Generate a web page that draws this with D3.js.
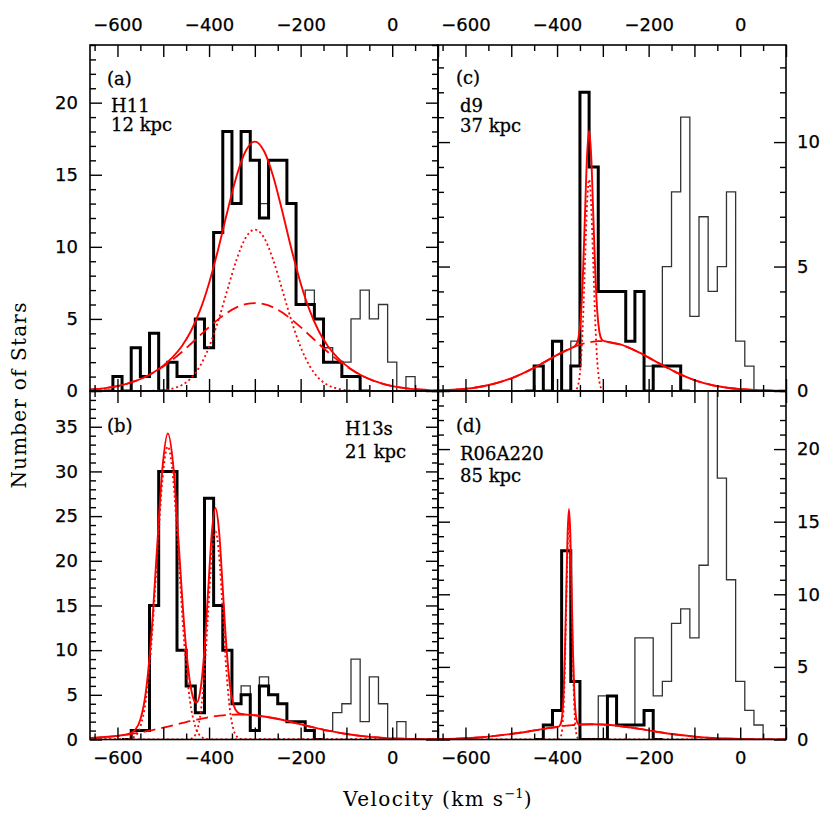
<!DOCTYPE html>
<html><head><meta charset="utf-8">
<script src="https://cdn.jsdelivr.net/npm/d3@7"></script>
<style>body{margin:0;background:#fff}</style>
</head><body>
<svg id="chart" width="830" height="830"></svg>
<script>
// ---------------- DATA ----------------
const binWidth = 20;
const xMajorTicks = [-600,-500,-400,-300,-200,-100,0,100];
const xMinorTicks = [-650,-550,-450,-350,-250,-150,-50,50];
const xTickLabels = [-600,-400,-200,0];

// Panel (a) H11 12 kpc
const aSelFirst = -620;
const aSelCounts = [0,1,0,3,1,4,0,2,1,1,5,3,11,18,13,18,16,12,16,16,13,6,6,5,2,2,1,1,0];
const aAllFirst = -620;
const aAllCounts = [0,1,0,3,1,4,0,2,1,1,5,3,11,18,13,18,16,13,16,16,13,6,7,5,3,2,2,5,7,5,6,2,0,1,0];
const aCurveV = [-660,-640,-620,-600,-580,-560,-540,-520,-500,-480,-460,-440,-420,-400,-380,-360,-340,-320,-300,
  -280,-260,-240,-220,-200,-180,-160,-140,-120,-100,-80,-60,-40,-20,0,20,40,60,80,100];
const aSolid = [0.10,0.15,0.23,0.34,0.50,0.70,0.97,1.32,1.76,2.33,3.09,4.13,5.57,7.48,9.84,12.45,14.90,16.65,17.30,
  16.65,14.90,12.45,9.84,7.48,5.57,4.13,3.09,2.33,1.76,1.32,0.97,0.70,0.50,0.34,0.23,0.15,0.10,0.06,0.04];
const aDotted = [0,0,0,0,0,0,0,0.02,0.06,0.17,0.40,0.87,1.72,3.05,4.87,7.01,9.10,10.63,11.2,
  10.63,9.10,7.01,4.87,3.05,1.72,0.87,0.40,0.17,0.06,0.02,0,0,0,0,0,0,0,0,0];
const aDashed = [0.10,0.15,0.23,0.34,0.50,0.70,0.97,1.30,1.70,2.16,2.69,3.26,3.85,4.43,4.97,5.44,5.80,6.02,6.10,
  6.02,5.80,5.44,4.97,4.43,3.85,3.26,2.69,2.16,1.70,1.30,0.97,0.70,0.50,0.34,0.23,0.15,0.10,0.06,0.04];
const aYTicks = [0,5,10,15,20];

// Panel (b) H13s 21 kpc
const bSelFirst = -580;
const bSelCounts = [0,1,1,15,30,30,10,6,3,27,15,10,4,5,1,6,5,4,2,2,1,0];
const bAllFirst = -580;
const bAllCounts = [0,1,1,15,30,30,10,6,3,27,15,10,4,6,1,7,5,4,2,2,1,0,1,3,4,9,2,7,4,0,2,0];
const bCurveV = [-660,-620,-600,-586,-574,-562,-550,-538,-526,-514,-502,-490,-478,-466,-454,-442,-434,-430,-426,-418,
  -410,-402,-394,-386,-378,-370,-362,-354,-346,-338,-330,-300,-260,-220,-180,-140,-100,-60,-20,20,60,100];
const bSolid = [0.16,0.30,0.41,0.51,0.65,1.04,2.23,5.34,11.68,21.05,30.25,34.25,30.55,21.64,12.55,6.54,4.55,4.16,4.19,5.83,
  10.10,16.65,23.11,25.91,23.22,16.84,10.31,5.92,3.81,3.06,2.85,2.71,2.40,1.95,1.45,0.99,0.62,0.35,0.18,0.09,0.04,0.02];
const bDashed = [0.16,0.30,0.41,0.50,0.58,0.68,0.79,0.90,1.03,1.16,1.30,1.45,1.60,1.75,1.90,2.05,2.14,2.19,2.23,2.32,
  2.40,2.48,2.54,2.61,2.66,2.71,2.74,2.77,2.79,2.80,2.80,2.71,2.40,1.95,1.45,0.99,0.62,0.35,0.18,0.09,0.04,0.02];
const bDot1V = [-660,-598,-586,-574,-562,-550,-538,-526,-514,-502,-490,-478,-466,-454,-442,-430,-418,-406,-394,-382,100];
const bDot1 = [0,0,0.01,0.07,0.36,1.44,4.44,10.65,19.89,28.95,32.8,28.95,19.89,10.65,4.44,1.44,0.36,0.07,0.01,0,0];
const bDot2V = [-660,-458,-450,-442,-434,-426,-418,-410,-402,-394,-386,-378,-370,-362,-354,-346,-338,-330,-322,-314,100];
const bDot2 = [0,0,0.01,0.05,0.26,1.02,3.15,7.57,14.13,20.56,23.3,20.56,14.13,7.57,3.15,1.02,0.26,0.05,0.01,0,0];
const bYTicks = [0,5,10,15,20,25,30,35];

// Panel (c) d9 37 kpc
const cSelFirst = -460;
const cSelCounts = [0,1,0,2,0,1,12,9,4,4,4,2,4,0,1,1,1,0];
const cAllFirst = -460;
const cAllCounts = [0,1,0,2,0,2,12,9,4,4,4,2,4,1,1,5,8,11,3,7,4,5,8,2,1,0];
const cCurveV = [-660,-620,-580,-540,-500,-460,-420,-390,-366,-361.5,-357,-352.5,-348,-343.5,-339,-334.5,-330,
  -325.5,-321,-316.5,-312,-307.5,-303,-298.5,-294,-260,-220,-180,-140,-100,-60,-20,20,60,100];
const cSolid = [0.02,0.06,0.13,0.28,0.51,0.84,1.24,1.54,1.75,1.80,1.91,2.21,3.02,4.66,7.08,9.44,10.46,
  9.47,7.14,4.75,3.15,2.37,2.09,2.02,1.99,1.86,1.54,1.14,0.75,0.44,0.23,0.11,0.05,0.02,0.01];
const cDashed = [0.02,0.06,0.13,0.28,0.51,0.84,1.24,1.54,1.75,1.78,1.82,1.84,1.87,1.90,1.92,1.94,1.96,
  1.97,1.98,1.99,2.00,2.00,2.00,2.00,1.99,1.86,1.54,1.14,0.75,0.44,0.23,0.11,0.05,0.02,0.01];
const cDotV = [-660,-370,-366,-361.5,-357,-352.5,-348,-343.5,-339,-334.5,-330,-325.5,-321,-316.5,-312,-307.5,-303,-298.5,-294,-290,100];
const cDot = [0,0,0,0.02,0.09,0.37,1.15,2.76,5.16,7.50,8.5,7.50,5.16,2.76,1.15,0.37,0.09,0.02,0,0,0];
const cYTicks = [0,5,10];

// Panel (d) R06A220 85 kpc
const dSelFirst = -440;
const dSelCounts = [0,1,2,13,4,0,0,0,3,1,1,1,2,0];
const dAllFirst = -440;
const dAllCounts = [0,1,2,13,4,0,0,3,3,1,1,7,7,3,4,8,9,7,12,30,18,11,4,2,1,0];
const dCurveV = [-660,-620,-580,-540,-500,-460,-420,-398,-395,-392,-389,-386,-383,-380,-377,-374,-371,-368,-365,
  -362,-359,-356,-353,-350,-325,-300,-260,-220,-180,-140,-100,-60,-20,20,60,100];
const dSolid = [0.03,0.06,0.12,0.23,0.38,0.57,0.78,0.88,0.92,1.08,1.57,2.95,5.78,9.99,14.11,15.87,14.13,10.03,5.84,
  3.02,1.66,1.19,1.05,1.03,1.05,1.03,0.91,0.73,0.52,0.34,0.20,0.10,0.05,0.02,0.01,0];
const dDashed = [0.03,0.06,0.12,0.23,0.38,0.57,0.78,0.88,0.89,0.91,0.92,0.93,0.94,0.95,0.96,0.97,0.98,0.99,1.00,
  1.00,1.01,1.02,1.02,1.03,1.05,1.03,0.91,0.73,0.52,0.34,0.20,0.10,0.05,0.02,0.01,0];
const dDotV = [-660,-401,-398,-395,-392,-389,-386,-383,-380,-377,-374,-371,-368,-365,-362,-359,-356,-353,-350,-347,100];
const dDot = [0,0,0,0.03,0.17,0.65,2.02,4.84,9.04,13.15,14.9,13.15,9.04,4.84,2.02,0.65,0.17,0.03,0,0,0];
const dYTicks = [0,5,10,15,20];

// ---------------- LAYOUT ----------------
const svg = d3.select("#chart");
const L = 90, M = 438, R = 786, T = 45, MID = 391, B = 739.5;
const numFont = "DejaVu Sans", txtFont = "DejaVu Serif";

const panels = [
  {x0:L, x1:M, y0:T, y1:MID, ymax:24, selFirst:aSelFirst, sel:aSelCounts, allFirst:aAllFirst, all:aAllCounts,
   solid:[aCurveV,aSolid], dashed:[aCurveV,aDashed], dotted:[[aCurveV,aDotted]], yTicks:aYTicks,
   ylab:"left", xlab:"top", texts:[["(a)",107,85],["H11",111,111.5],["12 kpc",111,130.5]]},
  {x0:L, x1:M, y0:MID, y1:B, ymax:39, selFirst:bSelFirst, sel:bSelCounts, allFirst:bAllFirst, all:bAllCounts,
   solid:[bCurveV,bSolid], dashed:[bCurveV,bDashed], dotted:[[bDot1V,bDot1],[bDot2V,bDot2]], yTicks:bYTicks,
   ylab:"left", xlab:"bottom", texts:[["(b)",107,432],["H13s",345,435],["21 kpc",345,457.5]]},
  {x0:M, x1:R, y0:T, y1:MID, ymax:13.9, selFirst:cSelFirst, sel:cSelCounts, allFirst:cAllFirst, all:cAllCounts,
   solid:[cCurveV,cSolid], dashed:[cCurveV,cDashed], dotted:[[cDotV,cDot]], yTicks:cYTicks,
   ylab:"right", xlab:"top", texts:[["(c)",456,84],["d9",460,111.5],["37 kpc",460,131.5]]},
  {x0:M, x1:R, y0:MID, y1:B, ymax:24, selFirst:dSelFirst, sel:dSelCounts, allFirst:dAllFirst, all:dAllCounts,
   solid:[dCurveV,dSolid], dashed:[dCurveV,dDashed], dotted:[[dDotV,dDot]], yTicks:dYTicks,
   ylab:"right", xlab:"bottom", texts:[["(d)",456,432],["R06A220",460,460],["85 kpc",460,481.5]]}
];

const fmt = d3.format("d");

function stepData(first, counts) {
  const pts = counts.map((c,i) => [first - binWidth/2 + i*binWidth, c]);
  pts.push([first - binWidth/2 + counts.length*binWidth, counts[counts.length-1]]);
  return pts;
}

function styleAxis(g) {
  g.select(".domain").remove();
  g.selectAll(".tick line").attr("stroke","#000").attr("stroke-width",1.4);
  g.attr("font-family", numFont).attr("font-size", 18);
  g.selectAll(".tick text").attr("fill","#000").attr("stroke","#000").attr("stroke-width",0.25);
}

panels.forEach((p, idx) => {
  const x = d3.scaleLinear().domain([-660,100]).range([p.x0,p.x1]);
  const y = d3.scaleLinear().domain([0,p.ymax]).range([p.y1,p.y0]);
  const g = svg.append("g");
  const clipId = "clip"+idx;
  svg.append("clipPath").attr("id",clipId).append("rect")
    .attr("x",p.x0).attr("y",p.y0).attr("width",p.x1-p.x0).attr("height",p.y1-p.y0);
  const plot = g.append("g").attr("clip-path","url(#"+clipId+")");

  const hist = d3.line().x(d=>x(d[0])).y(d=>y(d[1])).curve(d3.curveStepAfter);
  plot.append("path").attr("d",hist(stepData(p.allFirst,p.all)))
    .attr("fill","none").attr("stroke","#333").attr("stroke-width",1.3);
  plot.append("path").attr("d",hist(stepData(p.selFirst,p.sel)))
    .attr("fill","none").attr("stroke","#000").attr("stroke-width",3).attr("stroke-linejoin","miter");

  const curve = d3.line().x(d=>x(d[0])).y(d=>y(d[1])).curve(d3.curveMonotoneX);
  p.dotted.forEach(dd => {
    plot.append("path").attr("d",curve(d3.zip(dd[0],dd[1])))
      .attr("fill","none").attr("stroke","#ff0000").attr("stroke-width",1.8).attr("stroke-dasharray","2,2.8");
  });
  plot.append("path").attr("d",curve(d3.zip(p.dashed[0],p.dashed[1])))
    .attr("fill","none").attr("stroke","#ff0000").attr("stroke-width",1.8).attr("stroke-dasharray","12,6");
  plot.append("path").attr("d",curve(d3.zip(p.solid[0],p.solid[1])))
    .attr("fill","none").attr("stroke","#ff0000").attr("stroke-width",1.9);

  // X axes (top and bottom of the panel), ticks inward
  const topLab = p.xlab === "top", botLab = p.xlab === "bottom";
  const xt = g.append("g").attr("transform",`translate(0,${p.y0})`)
    .call(d3.axisTop(x).tickValues(xMajorTicks).tickSize(-12).tickPadding(14)
      .tickFormat(d => topLab && xTickLabels.includes(d) ? fmt(d) : ""));
  styleAxis(xt);
  const xtm = g.append("g").attr("transform",`translate(0,${p.y0})`)
    .call(d3.axisTop(x).tickValues(xMinorTicks).tickSize(-6).tickFormat(""));
  styleAxis(xtm);
  const xb = g.append("g").attr("transform",`translate(0,${p.y1})`)
    .call(d3.axisBottom(x).tickValues(xMajorTicks).tickSize(-12).tickPadding(12)
      .tickFormat(d => botLab && xTickLabels.includes(d) ? fmt(d) : ""));
  styleAxis(xb);
  const xbm = g.append("g").attr("transform",`translate(0,${p.y1})`)
    .call(d3.axisBottom(x).tickValues(xMinorTicks).tickSize(-6).tickFormat(""));
  styleAxis(xbm);

  // Y axes
  const minorY = d3.range(0, Math.floor(p.ymax)+1).filter(v => !p.yTicks.includes(v));
  const yl = g.append("g").attr("transform",`translate(${p.x0},0)`)
    .call(d3.axisLeft(y).tickValues(p.yTicks).tickSize(-12).tickPadding(12)
      .tickFormat(d => p.ylab === "left" ? fmt(d) : ""));
  styleAxis(yl);
  const ylm = g.append("g").attr("transform",`translate(${p.x0},0)`)
    .call(d3.axisLeft(y).tickValues(minorY).tickSize(-6).tickFormat(""));
  styleAxis(ylm);
  const yr = g.append("g").attr("transform",`translate(${p.x1},0)`)
    .call(d3.axisRight(y).tickValues(p.yTicks).tickSize(-12).tickPadding(11)
      .tickFormat(d => p.ylab === "right" ? fmt(d) : ""));
  styleAxis(yr);
  const yrm = g.append("g").attr("transform",`translate(${p.x1},0)`)
    .call(d3.axisRight(y).tickValues(minorY).tickSize(-6).tickFormat(""));
  styleAxis(yrm);

  // frame
  g.append("rect").attr("x",p.x0).attr("y",p.y0).attr("width",p.x1-p.x0).attr("height",p.y1-p.y0)
    .attr("fill","none").attr("stroke","#000").attr("stroke-width",1.6);

  // panel annotations
  p.texts.forEach(t => {
    g.append("text").attr("x",t[1]).attr("y",t[2]).text(t[0])
      .attr("font-family",txtFont).attr("font-size",18).attr("fill","#000")
      .attr("stroke","#000").attr("stroke-width",0.3);
  });
});

// Axis titles
svg.append("text").attr("transform","translate(26,395) rotate(-90)")
  .attr("text-anchor","middle").attr("font-family",txtFont).attr("font-size",20)
  .attr("letter-spacing",1.2).text("Number of Stars");
const vt = svg.append("text").attr("x",438).attr("y",806).attr("text-anchor","middle")
  .attr("font-family",txtFont).attr("font-size",20).attr("letter-spacing",1.4);
vt.append("tspan").text("Velocity (km s");
vt.append("tspan").attr("dy",-8).attr("font-size",13).attr("letter-spacing",0).text("−1");
vt.append("tspan").attr("dy",8).text(")");
</script>
</body></html>
